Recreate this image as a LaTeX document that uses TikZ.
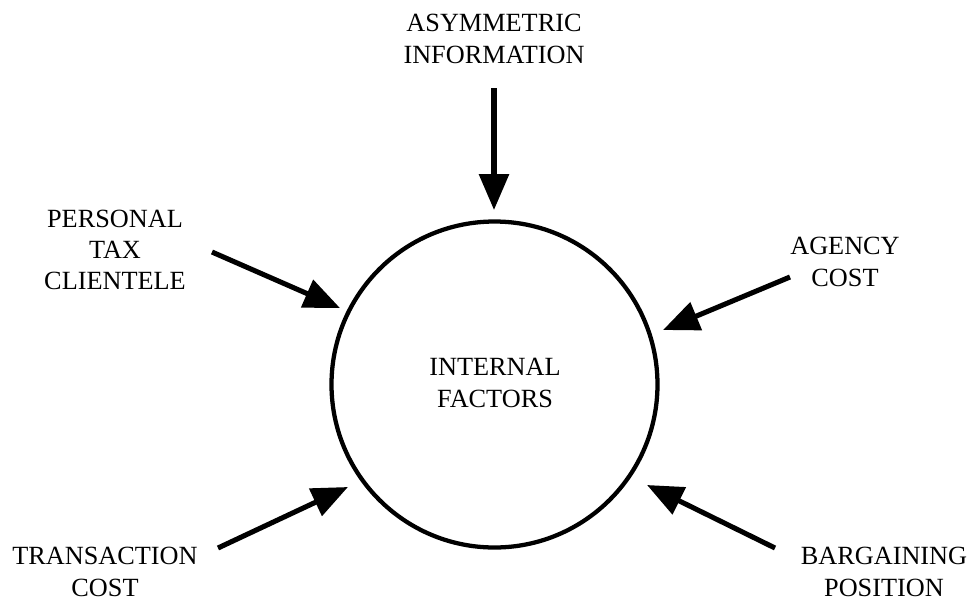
\documentclass[tikz,border=0pt]{standalone}
\usepackage{fontspec}
\setmainfont{Liberation Serif}
\usetikzlibrary{arrows.meta}
\begin{document}
\begin{tikzpicture}[x=0.75pt,y=-0.75pt,
  lbl/.style={align=center,font=\fontsize{19.7}{23.5}\selectfont,inner sep=0pt},
  bigarrow/.style={line width=3.8pt,-{Triangle[length=27pt,width=22pt]}},
  ring/.style={circle,draw,line width=3.2pt,minimum size=326*0.75pt,inner sep=0pt}]
\useasboundingbox (0,0) rectangle (972,601);
\node[ring] (c) at (494.5,384.5) {};
\node[lbl] (int) at (495,383) {INTERNAL\\FACTORS};
\node[lbl] (asy) at (494,39) {ASYMMETRIC\\INFORMATION};
\node[lbl] (ptc) at (115,250) {PERSONAL\\TAX\\CLIENTELE};
\node[lbl] (tc) at (105,572) {TRANSACTION\\COST};
\node[lbl] (ag) at (845,262) {AGENCY\\COST};
\node[lbl] (bp) at (884,572) {BARGAINING\\POSITION};
\coordinate (a1) at (494,88);  \coordinate (t1) at (494,210);
\coordinate (a2) at (212,252); \coordinate (t2) at (340,308);
\coordinate (a3) at (218,548); \coordinate (t3) at (348,487);
\coordinate (a4) at (790,277); \coordinate (t4) at (663,330);
\coordinate (a5) at (775,548); \coordinate (t5) at (647,485);
\draw[bigarrow] (a1) -- (t1);
\draw[bigarrow] (a2) -- (t2);
\draw[bigarrow] (a3) -- (t3);
\draw[bigarrow] (a4) -- (t4);
\draw[bigarrow] (a5) -- (t5);
\end{tikzpicture}
\end{document}
